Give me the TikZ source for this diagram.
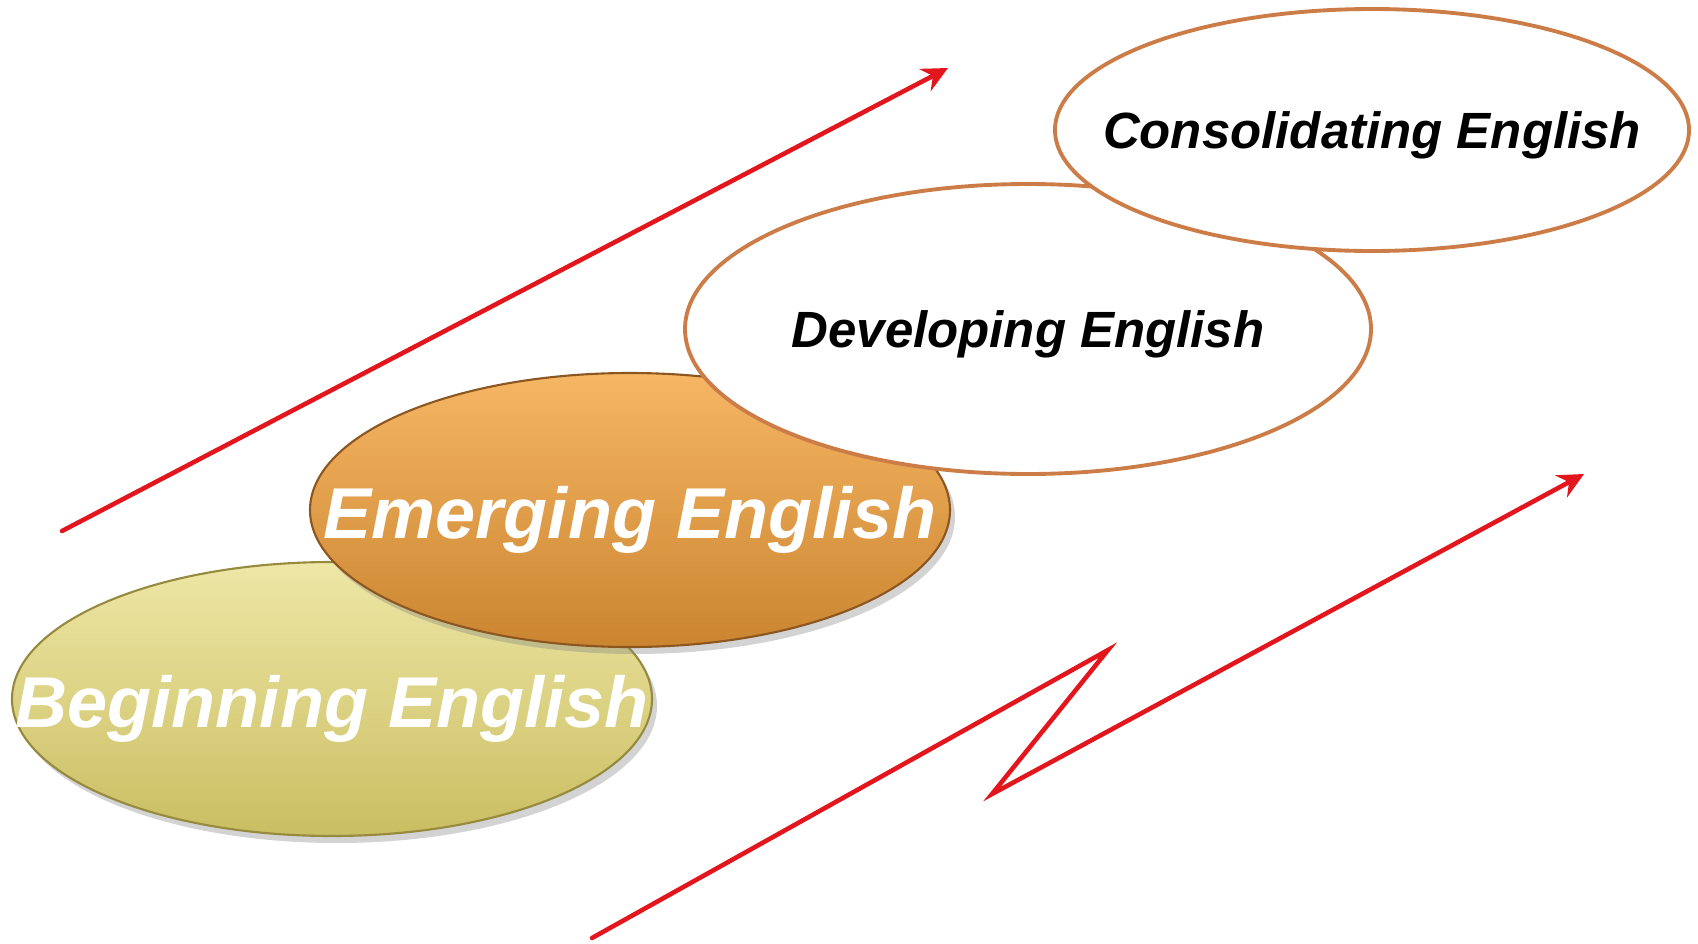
\documentclass[tikz,border=0pt]{standalone}
\usepackage{fontspec}
\setmainfont{Liberation Sans}
\usepackage{tikz}
\usetikzlibrary{
    arrows.meta,
    shapes.geometric,
    shadows
}
\definecolor{sand}{RGB}{238,231,166}
\definecolor{sanddark}{RGB}{202,190,98}
\definecolor{olive}{RGB}{150,138,62}
\definecolor{apricot}{RGB}{246,182,100}
\definecolor{apricotdark}{RGB}{203,133,48}
\definecolor{rust}{RGB}{140,86,32}
\definecolor{copper}{RGB}{204,124,70}
\definecolor{signal}{RGB}{226,22,28}
\tikzstyle{stage} = [
    ellipse,
    inner sep=0pt,
    minimum width=6.4cm,
    minimum height=2.74cm
]
\tikzstyle{early} = [
    stage,
    line width=0.6pt,
    drop shadow={shadow xshift=0.05cm, shadow yshift=-0.07cm, opacity=0.35}
]
\tikzstyle{later} = [
    stage,
    draw=copper,
    line width=1.1pt,
    fill=white
]
\tikzstyle{bigtext} = [
    font=\fontsize{20.5}{24}\selectfont\bfseries\itshape,
    text=white,
    yshift=-0.1cm
]
\tikzstyle{smalltext} = [
    font=\fontsize{14.5}{17}\selectfont\bfseries\itshape,
    text=black,
    yshift=-0.05cm
]
\tikzstyle{growth} = [
    -{Stealth[length=2.6mm, width=2.5mm, inset=0.9mm]},
    line width=1.3pt,
    draw=signal,
    line cap=round,
    line join=miter
]

\begin{document}
\begin{tikzpicture}
        \useasboundingbox (0,0) rectangle (16.98,9.43);

        % Beginning stage
        \node[early, draw=olive, top color=sand, bottom color=sanddark] (beginning) at (3.32,2.44) {};
        \node[bigtext] (beginning-text) at (beginning) {Beginning English};

        % Emerging stage
        \node[early, draw=rust, top color=apricot, bottom color=apricotdark] (emerging) at (6.30,4.33) {};
        \node[bigtext] (emerging-text) at (emerging) {Emerging English};

        % Developing stage
        \node[later, minimum width=6.86cm, minimum height=2.9cm] (developing) at (10.28,6.14) {};
        \node[smalltext] (developing-text) at (developing) {Developing English};

        % Consolidating stage
        \node[later, minimum width=6.34cm, minimum height=2.42cm] (consolidating) at (13.72,8.13) {};
        \node[smalltext] (consolidating-text) at (consolidating) {Consolidating English};

        % Upward trend
        \coordinate (rise-start) at (0.62,4.12);
        \coordinate (rise-end) at (9.48,8.75);
        \draw[growth] (rise-start) -- (rise-end);

        % Trend with a setback
        \coordinate (dip-start) at (5.92,0.05);
        \coordinate (dip-peak) at (11.08,2.93);
        \coordinate (dip-low) at (9.92,1.49);
        \coordinate (dip-end) at (15.84,4.69);
        \draw[growth] (dip-start) -- (dip-peak) -- (dip-low) -- (dip-end);
    \end{tikzpicture}
\end{document}
